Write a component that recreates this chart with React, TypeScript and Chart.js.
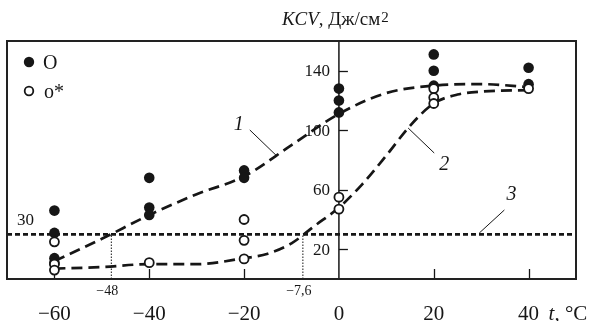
import React, { useEffect, useRef } from "react";
import { Chart, registerables } from "chart.js";

Chart.register(...registerables);

// ---- data ----
const filledT = [-60, -60, -60, -60, -40, -40, -40, -20, -20, 0, 0, 0, 20, 20, 20, 40, 40];
const filledKCV = [46, 31, 14, 11, 68, 48, 43, 73, 68, 128, 120, 112, 151, 140, 130, 142, 131];
const openT = [-60, -60, -60, -40, -20, -20, -20, 0, 0, 20, 20, 20, 40];
const openKCV = [25, 10, 6, 11, 40, 26, 13.5, 55, 47, 128, 122, 118, 128];

const curve1T = [-60, -50, -40, -30, -20, -10, 0, 10, 20, 30, 40];
const curve1KCV = [12, 27, 43, 57, 69, 90, 111, 125, 130, 131, 129];
const curve2T = [-60, -50, -40, -30, -20, -15, -10, -5, 0, 5, 10, 15, 20, 25, 30, 40];
const curve2KCV = [7, 8, 10, 10, 14, 17, 24, 36, 48, 64, 83, 103, 118, 124, 126, 127];

const levelKCV = 30;
const levelT = [-70, 50];
const markT = [-48, -7.6];
const markLabels = ["\u221248", "\u22127,6"];

const xTickVals = [-60, -40, -20, 0, 20, 40];
const xTickLabels = ["\u221260", "\u221240", "\u221220", "0", "20", "40"];
const xTickMarks = [-60, -40, -20, 20, 40];
const yTickVals = [20, 60, 100, 140];
const yTickLabels = ["20", "60", "100", "140"];

const seriesNames = ["O", "o*"];
const curveNames = ["1", "2", "3"];
// curve label anchors and leader lines (data coordinates)
const curveLabelT = [-21.1, 22.2, 36.4];
const curveLabelKCV = [104, 77, 56.4];
const leader1T = [-18.8, -13.1];
const leader1KCV = [100.2, 82.7];
const leader2T = [14.6, 20.1];
const leader2KCV = [101.5, 84.7];
const leader3T = [34.9, 29.6];
const leader3KCV = [46.4, 30.9];

const SERIF = '"Liberation Serif", "Times New Roman", serif';
const INK = "#161616";

const pts = (xs: number[], ys: number[]) => xs.map((x, i) => ({ x, y: ys[i] }));

const decor = {
  id: "decor",
  beforeDatasetsDraw(chart: any) {
    const { ctx, chartArea: a, scales } = chart;
    const x = scales.x, y = scales.y;
    const x0 = x.getPixelForValue(0);
    ctx.save();
    ctx.strokeStyle = INK;
    ctx.lineWidth = 1.5;
    ctx.beginPath();
    ctx.moveTo(x0, a.top);
    ctx.lineTo(x0, a.bottom);
    ctx.stroke();
    ctx.lineWidth = 1.3;
    for (const v of yTickVals) {
      const py = Math.round(y.getPixelForValue(v)) + 0.5;
      ctx.beginPath();
      ctx.moveTo(x0, py);
      ctx.lineTo(x0 + 9, py);
      ctx.stroke();
    }
    for (const v of xTickMarks) {
      const px = Math.round(x.getPixelForValue(v)) + 0.5;
      ctx.beginPath();
      ctx.moveTo(px, a.bottom);
      ctx.lineTo(px, a.bottom - 10);
      ctx.stroke();
    }
    ctx.restore();
  },
  afterDraw(chart: any) {
    const { ctx, chartArea: a, scales } = chart;
    const x = scales.x, y = scales.y;
    const x0 = x.getPixelForValue(0);
    ctx.save();
    // frame
    ctx.strokeStyle = "#222";
    ctx.lineWidth = 2;
    ctx.strokeRect(a.left, a.top, a.right - a.left, a.bottom - a.top);

    ctx.fillStyle = INK;
    // y tick labels
    ctx.font = `17px ${SERIF}`;
    ctx.textAlign = "right";
    ctx.textBaseline = "middle";
    yTickVals.forEach((v, i) => {
      ctx.fillText(yTickLabels[i], x0 - 9, y.getPixelForValue(v) + 1);
    });
    // level label
    ctx.textAlign = "left";
    ctx.textBaseline = "alphabetic";
    ctx.fillText(String(levelKCV), a.left + 10, y.getPixelForValue(levelKCV) - 9);

    // x tick labels
    ctx.font = `21px ${SERIF}`;
    ctx.textAlign = "center";
    xTickVals.forEach((v, i) => {
      ctx.fillText(xTickLabels[i], x.getPixelForValue(v), 320);
    });
    // mark labels
    ctx.font = `14px ${SERIF}`;
    markT.forEach((v, i) => {
      ctx.fillText(markLabels[i], x.getPixelForValue(v) - 4, 295);
    });

    // axis title x
    ctx.textAlign = "left";
    let cx = x.getPixelForValue(40) + 20;
    ctx.font = `italic 21px ${SERIF}`;
    ctx.fillText("t,", cx, 320);
    cx += ctx.measureText("t,").width;
    ctx.font = `21px ${SERIF}`;
    ctx.fillText(" \u00b0C", cx, 320);

    // axis title y
    cx = x0 - 57;
    ctx.font = `italic 19px ${SERIF}`;
    ctx.fillText("KCV", cx, 25);
    cx += ctx.measureText("KCV").width;
    ctx.font = `19px ${SERIF}`;
    ctx.fillText(", \u0414\u0436/\u0441\u043c", cx, 25);
    cx += ctx.measureText(", \u0414\u0436/\u0441\u043c").width;
    ctx.font = `15px ${SERIF}`;
    ctx.fillText("2", cx + 1, 22);

    // curve labels
    ctx.font = `italic 20px ${SERIF}`;
    ctx.textAlign = "center";
    ctx.textBaseline = "middle";
    curveNames.forEach((n, i) => {
      ctx.fillText(n, x.getPixelForValue(curveLabelT[i]), y.getPixelForValue(curveLabelKCV[i]));
    });

    // legend
    const lx = a.left + 22;
    const ly1 = a.top + 21;
    const ly2 = a.top + 50;
    ctx.beginPath();
    ctx.arc(lx, ly1, 5.2, 0, Math.PI * 2);
    ctx.fillStyle = INK;
    ctx.fill();
    ctx.beginPath();
    ctx.arc(lx, ly2, 4.3, 0, Math.PI * 2);
    ctx.fillStyle = "#fff";
    ctx.fill();
    ctx.lineWidth = 1.8;
    ctx.strokeStyle = INK;
    ctx.stroke();
    ctx.fillStyle = INK;
    ctx.textAlign = "left";
    ctx.textBaseline = "alphabetic";
    ctx.font = `20px ${SERIF}`;
    ctx.fillText(seriesNames[0], lx + 14, ly1 + 7);
    ctx.fillText(seriesNames[1], lx + 15, ly2 + 7);
    ctx.restore();
  },
};

export default function App() {
  const ref = useRef<HTMLCanvasElement>(null);
  useEffect(() => {
    const dashed = {
      showLine: true,
      pointRadius: 0,
      borderColor: INK,
      borderWidth: 2.7,
      borderDash: [11, 6],
      cubicInterpolationMode: "monotone" as const,
      fill: false,
      order: 3,
    };
    const thin = {
      showLine: true,
      pointRadius: 0,
      borderColor: INK,
      borderWidth: 1,
      fill: false,
      order: 4,
    };
    const chart = new Chart(ref.current!, {
      type: "scatter",
      data: {
        datasets: [
          {
            label: seriesNames[1],
            data: pts(openT, openKCV),
            showLine: false,
            pointRadius: 4.5,
            pointBackgroundColor: "#fff",
            pointBorderColor: INK,
            pointBorderWidth: 1.8,
            order: 0,
          },
          {
            label: seriesNames[0],
            data: pts(filledT, filledKCV),
            showLine: false,
            pointRadius: 5.3,
            pointBackgroundColor: INK,
            pointBorderColor: INK,
            pointBorderWidth: 0,
            order: 1,
          },
          { label: "1", data: pts(curve1T, curve1KCV), ...dashed },
          { label: "2", data: pts(curve2T, curve2KCV), ...dashed },
          {
            label: "3",
            data: pts(levelT, levelT.map(() => levelKCV)),
            showLine: true,
            pointRadius: 0,
            borderColor: INK,
            borderWidth: 2.8,
            borderDash: [5, 3],
            fill: false,
            order: 2,
          },
          {
            label: "m1",
            data: pts([markT[0], markT[0]], [0, levelKCV]),
            ...thin,
            borderDash: [1.5, 1.5],
          },
          {
            label: "m2",
            data: pts([markT[1], markT[1]], [0, levelKCV]),
            ...thin,
            borderDash: [1.5, 1.5],
          },
          { label: "l1", data: pts(leader1T, leader1KCV), ...thin },
          { label: "l2", data: pts(leader2T, leader2KCV), ...thin },
          { label: "l3", data: pts(leader3T, leader3KCV), ...thin },
        ],
      },
      options: {
        animation: false,
        responsive: false,
        devicePixelRatio: 1,
        events: [],
        layout: { autoPadding: false, padding: { left: 7, right: 17, top: 41, bottom: 42 } },
        plugins: { legend: { display: false }, tooltip: { enabled: false }, title: { display: false } },
        scales: {
          x: { type: "linear", min: -70, max: 50, display: false },
          y: { type: "linear", min: 0, max: 160, display: false },
        },
      } as any,
      plugins: [decor],
    });
    return () => chart.destroy();
  }, []);
  return (
    <div style={{ position: "fixed", left: 0, top: 0, width: 593, height: 321, background: "#fff" }}>
      <canvas ref={ref} width={593} height={321} style={{ display: "block" }} />
    </div>
  );
}
